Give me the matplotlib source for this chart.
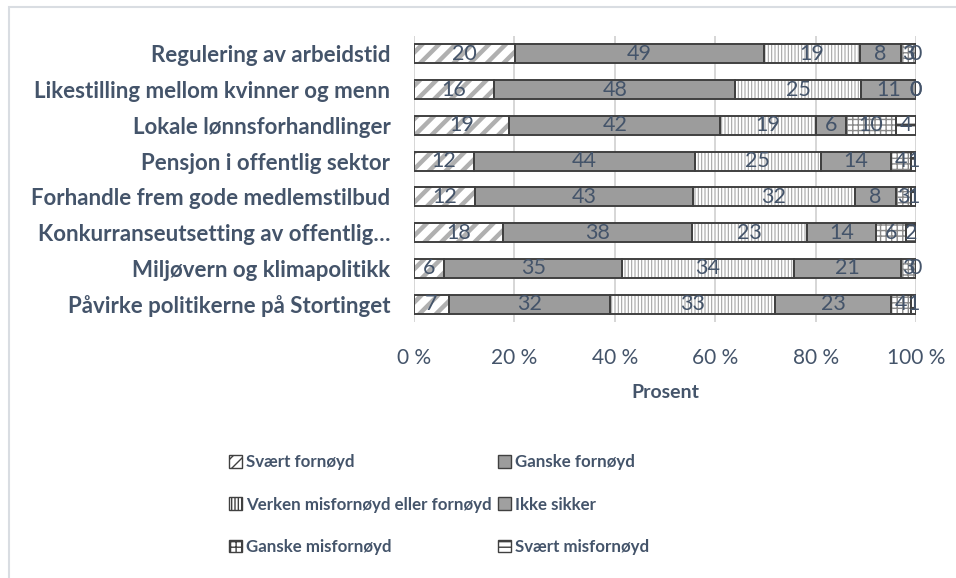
import numpy as np
import matplotlib
matplotlib.use('Agg')
import matplotlib.pyplot as plt
from matplotlib.patches import Patch, Rectangle

categories = [
    "Regulering av arbeidstid",
    "Likestilling mellom kvinner og menn",
    "Lokale lønnsforhandlinger",
    "Pensjon i offentlig sektor",
    "Forhandle frem gode medlemstilbud",
    "Konkurranseutsetting av offentlig…",
    "Miljøvern og klimapolitikk",
    "Påvirke politikerne på Stortinget",
]
series_names = [
    "Svært fornøyd",
    "Ganske fornøyd",
    "Verken misfornøyd eller fornøyd",
    "Ikke sikker",
    "Ganske misfornøyd",
    "Svært misfornøyd",
]
svaert_fornoyd = [20, 16, 19, 12, 12, 18, 6, 7]
ganske_fornoyd = [49, 48, 42, 44, 43, 38, 35, 32]
verken = [19, 25, 19, 25, 32, 23, 34, 33]
ikke_sikker = [8, 11, 6, 14, 8, 14, 21, 23]
ganske_misfornoyd = [3, 0, 10, 4, 3, 6, 3, 4]
svaert_misfornoyd = [0, 0, 4, 1, 1, 2, 0, 1]
tick_values = [0, 20, 40, 60, 80, 100]
tick_labels = ["0 %", "20 %", "40 %", "60 %", "80 %", "100 %"]

series = [svaert_fornoyd, ganske_fornoyd, verken, ikke_sikker,
          ganske_misfornoyd, svaert_misfornoyd]

styles = [
    dict(face="white", hatch="//", hcolor="#b0b0b0", hlw=3.2, lhatch="///"),
    dict(face="#9c9c9c", hatch=None, hcolor="#9c9c9c", hlw=1.0, lhatch=None),
    dict(face="white", hatch="|||||", hcolor="#a6a6a6", hlw=0.8, lhatch="|||||"),
    dict(face="#a0a0a0", hatch=None, hcolor="#a0a0a0", hlw=1.0, lhatch=None),
    dict(face="white", hatch="+++", hcolor="#8a8a8a", hlw=1.0, lhatch="+++"),
    dict(face="white", hatch="-", hcolor="#404040", hlw=2.0, lhatch="---"),
]

TEXT = "#44546A"
EDGE = "#404040"
FONT = "Lato"
plt.rcParams["font.family"] = [FONT, "DejaVu Sans"]

fig = plt.figure(figsize=(9.56, 5.78), dpi=100)
ax = fig.add_axes([414 / 956, 1 - 322 / 578, 502 / 956, 286 / 578])

data = np.array(series, dtype=float)
totals = data.sum(axis=0)
pct = data / totals * 100
y = np.arange(len(categories))
left = np.zeros(len(categories))
bh = 0.53

for i, (vals, st) in enumerate(zip(series, styles)):
    with plt.rc_context({"hatch.linewidth": st["hlw"]}):
        fill = ax.barh(y, pct[i], left=left, height=bh, color=st["face"],
                       hatch=st["hatch"], edgecolor=st["hcolor"], linewidth=0,
                       zorder=2)
        for p in fill.patches:
            if hasattr(p, "set_hatch_linewidth"):
                p.set_hatch_linewidth(st["hlw"])
    outline = ax.barh(y, pct[i], left=left, height=bh, fill=False,
                      edgecolor=EDGE, linewidth=1.4, zorder=3)
    ax.bar_label(outline, labels=[str(v) for v in vals], label_type="center",
                 color=TEXT, fontsize=15.5, zorder=4)
    left = left + pct[i]

ax.set_xlim(0, 100)
ax.set_ylim(len(categories) - 0.5, -0.5)
ax.set_xticks(tick_values)
ax.set_xticklabels(tick_labels, fontsize=15, color=TEXT)
ax.set_yticks(y)
ax.set_yticklabels(categories, fontsize=16, color=TEXT, fontweight="bold")
ax.tick_params(axis="both", length=0)
ax.tick_params(axis="x", pad=19)
ax.tick_params(axis="y", pad=17)
ax.grid(axis="x", color="#d0d0d0", linewidth=1.2, zorder=0)
ax.set_axisbelow(True)
for s in ax.spines.values():
    s.set_visible(False)
ax.set_xlabel("Prosent", fontsize=14, fontweight="bold", color=TEXT, labelpad=11)

# legend: two columns placed separately, row-wise order as in reference
handles = [Patch(facecolor=st["face"], hatch=st["lhatch"], edgecolor=EDGE,
                 linewidth=1.0) for st in styles]
columns = [([0, 2, 4], 214 / 956), ([1, 3, 5], 483 / 956)]
for idx, xpos in columns:
    leg = fig.legend([handles[k] for k in idx], [series_names[k] for k in idx],
                     ncol=1, loc="upper left", bbox_to_anchor=(xpos, 1 - 439 / 578),
                     frameon=False, handlelength=0.75, handleheight=0.75,
                     handletextpad=0.25, labelspacing=1.55,
                     prop={"family": [FONT, "DejaVu Sans"], "weight": "bold",
                           "size": 12.2})
    for t in leg.get_texts():
        t.set_color(TEXT)

# figure border (left and top visible)
fig.patches.append(Rectangle((9 / 956, -0.1), 1.5, 1.1 - 7 / 578,
                             transform=fig.transFigure, fill=False,
                             edgecolor="#d9dde2", linewidth=1.5))

fig.savefig("out.png", dpi=100)
